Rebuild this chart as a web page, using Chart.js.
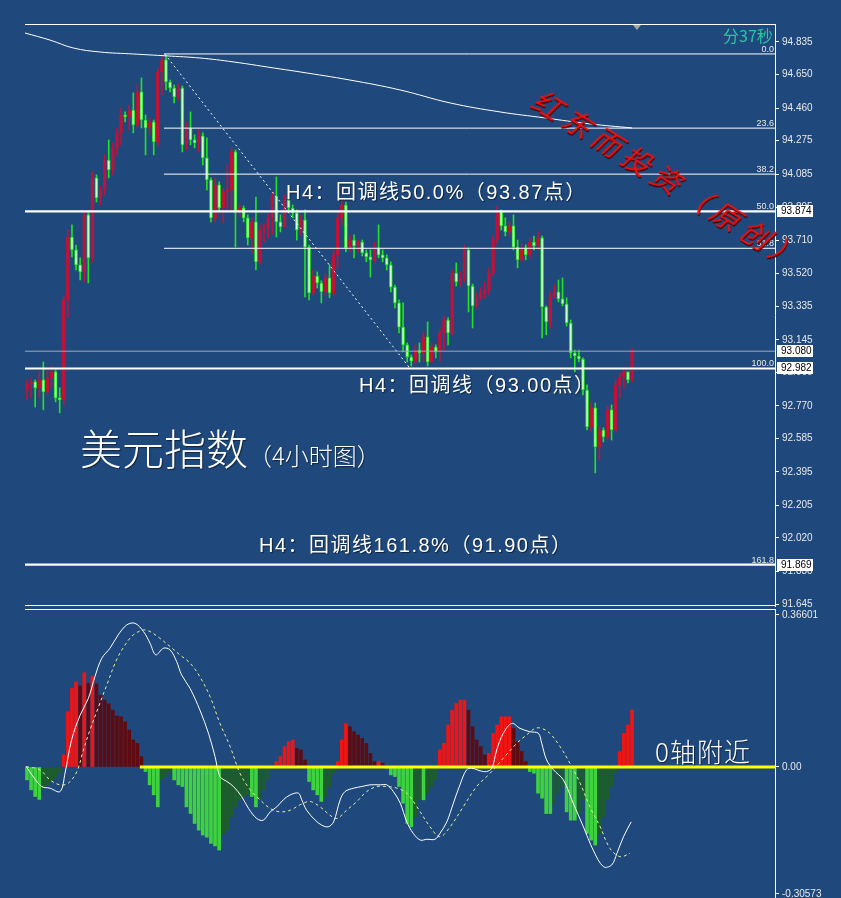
<!DOCTYPE html>
<html><head><meta charset="utf-8">
<script src="https://cdn.jsdelivr.net/npm/chart.js@4"></script>
<style>
html,body{margin:0;padding:0;background:#1f497d;width:841px;height:898px;overflow:hidden;}
#wrap{position:relative;width:841px;height:898px;}
canvas{position:absolute;left:0;}
.t{position:absolute;white-space:nowrap;color:#fff;font-family:"Liberation Sans","Noto Sans CJK SC",sans-serif;}
.h4{font-size:20px;line-height:20px;letter-spacing:1.5px;text-shadow:1px 1px 1px rgba(0,0,0,.55);}
</style></head><body>
<div id="wrap">
<canvas id="main" width="841" height="608" style="top:0"></canvas>
<canvas id="macd" width="841" height="291" style="top:607px"></canvas>
<div class="t h4" style="left:286px;top:182px">H4：回调线50.0%（93.87点）</div>
<div class="t h4" style="left:359px;top:375px">H4：回调线（93.00点）</div>
<div class="t h4" style="left:259px;top:535px">H4：回调线161.8%（91.90点）</div>
<div class="t" style="left:80px;top:426px;font-family:'Noto Sans CJK SC';font-weight:300;font-size:42px;line-height:42px;text-shadow:1px 1px 1px rgba(0,0,0,.5)">美元指数<span style="font-size:24px">（4小时图）</span></div>
<div class="t" style="left:655px;top:738px;font-family:'Noto Sans CJK SC';font-weight:300;font-size:26px;line-height:26px;letter-spacing:1px;text-shadow:1px 1px 1px rgba(0,0,0,.5)">0轴附近</div>
<div class="t" style="left:723px;top:27px;font-family:'Noto Sans CJK SC';font-size:16px;line-height:16px;color:#2ec4a4">分37秒</div>
<div class="t" style="left:536px;top:80px;font-family:'Noto Sans CJK SC';font-weight:400;font-style:italic;font-size:29px;line-height:30px;letter-spacing:6px;color:#ee1010;text-shadow:1px 1px 0 #300;transform-origin:0 50%;transform:rotate(32deg)">红东而投资（原创）</div>
</div>
<script>
// ---------- price panel data (H4 candles) ----------
const firstOpen = 92.860;
const closes = [92.894,92.906,92.872,92.917,92.849,92.929,92.963,92.815,92.803,93.371,
93.728,93.655,93.570,93.530,93.854,93.610,94.064,93.950,93.995,94.165,
94.109,94.234,94.319,94.421,94.409,94.449,94.364,94.552,94.392,94.347,
94.381,94.268,94.665,94.733,94.608,94.574,94.523,94.574,94.251,94.347,
94.279,94.262,94.302,94.177,94.052,93.837,94.024,93.893,93.984,93.995,
94.211,93.871,93.893,93.837,93.723,93.814,93.587,93.768,93.780,93.837,
93.961,93.814,93.785,93.938,93.893,93.865,93.768,93.825,93.671,93.411,
93.507,93.467,93.417,93.496,93.411,93.627,93.837,93.910,93.666,93.711,
93.677,93.700,93.638,93.615,93.598,93.666,93.627,93.610,93.570,93.444,
93.354,93.217,93.116,93.047,93.024,93.087,93.070,93.161,93.019,93.104,
93.076,93.184,93.257,93.184,93.524,93.473,93.496,93.655,93.450,93.337,
93.388,93.411,93.428,93.524,93.711,93.871,93.791,93.757,93.791,93.671,
93.598,93.666,93.627,93.700,93.677,93.723,93.331,93.246,93.388,93.417,
93.377,93.348,93.240,93.070,93.053,93.036,92.860,92.650,92.758,92.537,
92.633,92.593,92.747,92.633,92.889,92.934,92.963,92.917,93.081];
const highs = [92.917,92.929,92.917,92.963,93.019,92.974,92.996,92.974,92.872,93.394,
93.768,93.797,93.683,93.610,93.882,93.865,94.098,94.081,94.018,94.194,
94.279,94.262,94.347,94.461,94.438,94.478,94.546,94.591,94.631,94.421,
94.404,94.392,94.688,94.762,94.756,94.619,94.591,94.596,94.585,94.381,
94.438,94.308,94.336,94.320,94.291,94.064,94.064,94.041,94.007,94.137,
94.234,94.222,93.915,93.904,93.854,93.837,93.955,93.797,93.802,93.859,
93.984,94.069,93.854,93.967,93.950,93.910,93.882,93.854,93.882,93.683,
93.541,93.530,93.480,93.518,93.570,93.655,93.871,93.950,93.927,93.740,
93.740,93.711,93.711,93.655,93.655,93.700,93.797,93.655,93.627,93.587,
93.456,93.371,93.354,93.127,93.059,93.116,93.127,93.190,93.246,93.127,
93.116,93.206,93.280,93.269,93.541,93.581,93.530,93.683,93.666,93.461,
93.411,93.439,93.473,93.553,93.734,93.904,93.882,93.837,93.814,93.854,
93.711,93.688,93.683,93.723,93.734,93.757,93.734,93.337,93.417,93.456,
93.484,93.496,93.383,93.257,93.087,93.087,93.042,92.889,92.792,92.786,
92.656,92.645,92.769,92.775,92.917,92.957,92.985,92.963,93.098];
const lows = [92.803,92.815,92.763,92.815,92.747,92.832,92.872,92.792,92.730,92.775,
93.269,93.615,93.541,93.484,93.473,93.467,93.587,93.927,93.910,93.967,
94.064,94.081,94.194,94.251,94.381,94.336,94.319,94.347,94.347,94.194,
94.308,94.194,94.245,94.535,94.563,94.552,94.489,94.506,94.211,94.222,
94.251,94.234,94.211,94.137,93.995,93.814,93.814,93.871,93.808,93.882,
93.871,93.671,93.842,93.814,93.683,93.638,93.541,93.575,93.700,93.723,
93.745,93.728,93.757,93.780,93.871,93.837,93.711,93.740,93.388,93.371,
93.400,93.439,93.354,93.394,93.383,93.394,93.553,93.797,93.644,93.644,
93.610,93.644,93.621,93.587,93.501,93.587,93.610,93.587,93.541,93.417,
93.326,93.184,93.076,93.019,92.996,93.007,93.019,93.019,92.996,93.019,
93.042,93.019,93.087,93.116,93.173,93.450,93.450,93.473,93.303,93.212,
93.326,93.371,93.383,93.400,93.507,93.688,93.768,93.734,93.734,93.655,
93.553,93.587,93.598,93.610,93.655,93.655,93.156,93.173,93.212,93.383,
93.360,93.337,93.223,93.042,92.963,93.019,92.832,92.633,92.622,92.389,
92.463,92.565,92.576,92.576,92.622,92.815,92.872,92.900,92.906];
// moving average (bar index, price)
const maPoints = [[-0.5,94.886],[5.6,94.846],[11.3,94.801],[17.9,94.778],[25.9,94.767],[34.2,94.756],[42.3,94.744],[50.4,94.722],[61.9,94.682],[66.8,94.665],[79.0,94.619],[91.2,94.563],[103.5,94.489],[115.7,94.438],[126.7,94.404],[137.7,94.370],[148,94.347]];
// fibonacci retracement
const fibLevels = [0.0, 23.6, 38.2, 50.0, 61.8, 100.0, 161.8];
const fibPrices = [94.767, 94.346, 94.085, 93.874, 93.664, 92.982, 91.869];
const fibHighlighted = [50.0, 100.0, 161.8];
const fibAnchorBar = 33.5;
const trendLine = [[33.7, 94.767], [93.7, 92.982]];
const currentPrice = 93.080;
const priceBoxes = [93.874, 93.080, 92.982, 91.869];
const priceTicks = [94.835,94.650,94.460,94.275,94.085,93.895,93.710,93.520,93.335,93.145,92.960,92.770,92.585,92.395,92.205,92.020,91.830,91.645];

// ---------- MACD panel data ----------
const hist = [-0.031,-0.055,-0.071,-0.078,-0.051,-0.043,-0.035,-0.027,-0.015,0.029,
0.133,0.189,0.205,0.195,0.227,0.201,0.219,0.200,0.173,0.161,
0.152,0.137,0.123,0.121,0.109,0.089,0.065,0.057,0.025,-0.011,
-0.043,-0.067,-0.096,-0.031,-0.023,-0.015,-0.031,-0.043,-0.047,-0.096,
-0.112,-0.136,-0.152,-0.164,-0.169,-0.184,-0.190,-0.200,-0.160,-0.152,
-0.120,-0.096,-0.079,-0.071,-0.067,-0.071,-0.096,-0.079,-0.055,-0.031,
-0.003,0.013,0.025,0.049,0.061,0.065,0.045,0.041,0.017,-0.035,
-0.055,-0.067,-0.083,-0.071,-0.047,-0.015,0.013,0.065,0.105,0.097,
0.085,0.077,0.069,0.057,0.033,0.013,0.013,0.009,-0.003,-0.019,
-0.023,-0.047,-0.087,-0.136,-0.144,-0.120,-0.079,-0.079,-0.063,-0.047,
-0.031,0.041,0.057,0.101,0.137,0.153,0.161,0.161,0.137,0.097,
0.065,0.049,0.029,0.033,0.081,0.101,0.121,0.121,0.121,0.093,
0.061,0.037,0.013,-0.011,-0.015,-0.063,-0.075,-0.112,-0.112,-0.087,
-0.063,-0.047,-0.108,-0.128,-0.128,-0.112,-0.079,-0.160,-0.176,-0.188,
-0.160,-0.120,-0.079,-0.047,-0.015,0.037,0.081,0.101,0.137];
const macdMain = [[-0.2,0.001],[1.5,-0.023],[3.6,-0.047],[5.6,-0.051],[8.1,-0.059],[9.3,-0.015],[10.9,0.065],[13.0,0.125],[15.0,0.165],[16.6,0.217],[18.3,0.262],[20.3,0.286],[22.3,0.318],[24.4,0.342],[26.4,0.346],[28.5,0.326],[30.1,0.298],[31.5,0.270],[33.4,0.286],[35.0,0.282],[36.6,0.254],[37.8,0.222],[39.9,0.189],[42.3,0.137],[44.4,0.081],[46.0,0.025],[47.2,-0.023],[48.9,-0.035],[50.5,-0.047],[52.5,-0.071],[54.2,-0.100],[56.2,-0.124],[57.8,-0.128],[59.5,-0.108],[61.1,-0.096],[62.7,-0.079],[64.4,-0.067],[66.4,-0.063],[67.2,-0.079],[68.4,-0.104],[70.5,-0.128],[72.1,-0.140],[73.7,-0.144],[75.0,-0.132],[76.6,-0.079],[77.8,-0.059],[79.9,-0.051],[81.9,-0.047],[83.9,-0.043],[86.4,-0.043],[88.0,-0.043],[89.6,-0.059],[91.3,-0.087],[92.9,-0.132],[94.5,-0.160],[96.2,-0.176],[97.8,-0.174],[99.8,-0.174],[101.0,-0.160],[102.7,-0.132],[104.3,-0.087],[105.9,-0.043],[107.5,-0.007],[108.8,-0.003],[110.8,-0.009],[112.4,-0.011],[113.7,-0.003],[114.9,0.041],[116.5,0.081],[118.6,0.105],[120.6,0.093],[123.0,0.085],[125.1,0.081],[125.9,0.057],[127.1,0.017],[128.8,-0.007],[131.2,-0.031],[133.6,-0.087],[136.1,-0.144],[138.5,-0.200],[141.0,-0.240],[143.0,-0.236],[144.3,-0.208],[145.9,-0.168],[147.8,-0.132]];
const macdSignal = [[-0.2,0.001],[3.2,-0.007],[5.6,-0.031],[8.1,-0.043],[10.1,-0.039],[12.2,-0.011],[13.8,0.041],[15.4,0.089],[17.5,0.145],[19.5,0.197],[21.9,0.258],[24.0,0.294],[26.0,0.318],[28.5,0.330],[30.1,0.326],[32.5,0.310],[35.0,0.290],[37.4,0.270],[39.9,0.250],[42.3,0.217],[44.8,0.169],[47.2,0.105],[49.7,0.049],[52.1,-0.015],[54.6,-0.055],[57.0,-0.079],[59.5,-0.100],[61.9,-0.108],[64.4,-0.104],[66.8,-0.091],[69.2,-0.083],[71.7,-0.096],[74.1,-0.116],[75.8,-0.124],[78.2,-0.104],[80.7,-0.083],[83.1,-0.059],[85.6,-0.047],[88.0,-0.047],[90.5,-0.051],[92.9,-0.063],[95.4,-0.096],[98.6,-0.144],[101.0,-0.168],[103.5,-0.144],[106.7,-0.096],[110.0,-0.047],[113.3,-0.015],[116.5,0.021],[119.8,0.057],[122.2,0.077],[124.3,0.093],[125.9,0.093],[127.9,0.081],[130.4,0.049],[132.8,0.009],[135.3,-0.039],[137.7,-0.096],[140.2,-0.144],[142.6,-0.196],[145.1,-0.216],[147.5,-0.208]];
const zeroLineStartBar = 27.6;
const macdTicks = [0.36601, 0, -0.30573];
const macdTickLabels = ['0.36601', '0.00', '-0.30573'];

// ---------- layout ----------
const XMIN = -0.489, XMAX = 182.97;
const RED = '#c0123a', GREEN = '#22e022', GREEN_FILL = '#c8ffc0';
Chart.defaults.font.family = '"Liberation Sans", Arial, sans-serif';
Chart.defaults.font.size = 10;

const opens = [firstOpen].concat(closes.slice(0, -1));
const isUp = closes.map((c, i) => c >= opens[i]);
const toXY = arr => arr.map(p => ({x: p[0], y: p[1]}));

const fibDatasets = fibLevels.map((lv, i) => {
  const hl = fibHighlighted.includes(lv);
  return {type:'line', order:0, data:[{x: hl ? XMIN : fibAnchorBar, y: fibPrices[i]}, {x: XMAX, y: fibPrices[i]}],
    borderColor:'#ffffff', borderWidth: hl ? 2.2 : 1, pointRadius:0, fill:false};
});

const yAxisBase = (min, max, ticks, cb) => ({
  position:'right', min, max,
  afterFit(s){ s.width = 66; s.paddingTop = 0; s.paddingBottom = 0; },
  afterBuildTicks(s){ s.ticks = ticks.map(v => ({value:v})); },
  ticks:{color:'#e8e8e8', padding:3, autoSkip:false, callback:cb, font:{size:10}},
  grid:{drawOnChartArea:false, drawTicks:true, tickLength:4, tickColor:'#ffffff'},
  border:{display:true, color:'#ffffff', width:1}
});

const mainDeco = {
  id:'mainDeco',
  afterDraw(chart){
    const {ctx, chartArea:a, scales:{x, y}} = chart;
    ctx.save();
    ctx.strokeStyle = '#ffffff'; ctx.lineWidth = 1;
    ctx.beginPath(); ctx.moveTo(a.left, a.top + 0.5); ctx.lineTo(a.right, a.top + 0.5); ctx.stroke();
    ctx.beginPath(); ctx.moveTo(a.left, a.bottom - 0.5); ctx.lineTo(a.right, a.bottom - 0.5); ctx.stroke();
    ctx.font = '9px "Liberation Sans"'; ctx.fillStyle = '#e8e8e8'; ctx.textAlign = 'right'; ctx.textBaseline = 'alphabetic';
    fibLevels.forEach((lv, i) => { ctx.fillText(lv.toFixed(1), a.right - 1, y.getPixelForValue(fibPrices[i]) - 2); });
    ctx.font = '10px "Liberation Sans"'; ctx.textAlign = 'left'; ctx.textBaseline = 'middle';
    priceBoxes.forEach(v => {
      const py = Math.round(y.getPixelForValue(v));
      ctx.fillStyle = '#ffffff'; ctx.fillRect(a.right + 2, py - 6, 36, 12);
      ctx.fillStyle = '#000000'; ctx.fillText(v.toFixed(3), a.right + 6, py + 0.5);
    });
    const tx = x.getPixelForValue(149.2);
    ctx.fillStyle = '#a9a9a9';
    ctx.beginPath(); ctx.moveTo(tx - 4, a.top + 1); ctx.lineTo(tx + 4, a.top + 1); ctx.lineTo(tx, a.top + 6); ctx.closePath(); ctx.fill();
    ctx.restore();
  }
};

new Chart(document.getElementById('main'), {
  type:'bar',
  data:{datasets:[
    ...fibDatasets,
    {type:'line', order:0, data:[{x:XMIN, y:currentPrice}, {x:XMAX, y:currentPrice}], borderColor:'#9aa7ba', borderWidth:1, pointRadius:0},
    {type:'line', order:1, data:toXY(trendLine), borderColor:'#ffffff', borderWidth:1, borderDash:[2,3], pointRadius:0},
    {type:'line', order:2, data:toXY(maPoints), borderColor:'#ffffff', borderWidth:1, pointRadius:0, tension:0.4},
    {type:'bar', order:3, grouped:false, barThickness:3, minBarLength:1, borderSkipped:false, borderWidth:1,
      data:closes.map((c, i) => ({x:i, y:[opens[i], c]})),
      backgroundColor:isUp.map(u => u ? RED : GREEN_FILL), borderColor:isUp.map(u => u ? RED : GREEN)},
    {type:'bar', order:4, grouped:false, barThickness:1, borderWidth:0,
      data:closes.map((c, i) => ({x:i, y:[lows[i], highs[i]]})),
      backgroundColor:isUp.map(u => u ? RED : GREEN)}
  ]},
  options:{
    responsive:false, animation:false, devicePixelRatio:1, events:[],
    layout:{padding:{left:25, top:24, right:0, bottom:2}},
    plugins:{legend:{display:false}, tooltip:{enabled:false}},
    scales:{
      x:{type:'linear', min:XMIN, max:XMAX, display:false, offset:false},
      y:yAxisBase(91.634, 94.937, priceTicks, v => Number(v).toFixed(3))
    }
  },
  plugins:[mainDeco]
});

const histColors = hist.map((v, i) => {
  const prev = i > 0 ? hist[i - 1] : 0;
  if (v >= 0) return v >= prev ? '#f01414' : '#5e0c12';
  return v <= prev ? '#3fd23f' : '#1d5c2e';
});

const macdDeco = {
  id:'macdDeco',
  afterDraw(chart){
    const {ctx, chartArea:a} = chart;
    ctx.save(); ctx.strokeStyle = '#ffffff'; ctx.lineWidth = 1;
    ctx.beginPath(); ctx.moveTo(a.left, a.top + 0.5); ctx.lineTo(a.right, a.top + 0.5); ctx.stroke();
    ctx.restore();
  }
};

new Chart(document.getElementById('macd'), {
  type:'bar',
  data:{datasets:[
    {type:'line', order:0, data:toXY(macdMain), borderColor:'#ffffff', borderWidth:1, pointRadius:0, tension:0.35},
    {type:'line', order:1, data:toXY(macdSignal), borderColor:'#e6ee9a', borderWidth:1, borderDash:[3,3], pointRadius:0, tension:0.35},
    {type:'line', order:2, data:[{x:zeroLineStartBar, y:0}, {x:XMAX, y:0}], borderColor:'#ffff00', borderWidth:3, pointRadius:0},
    {type:'bar', order:3, grouped:false, barThickness:3, borderWidth:0,
      data:hist.map((v, i) => ({x:i, y:v})), backgroundColor:histColors}
  ]},
  options:{
    responsive:false, animation:false, devicePixelRatio:1, events:[],
    layout:{padding:{left:25, top:2, right:0, bottom:0}},
    plugins:{legend:{display:false}, tooltip:{enabled:false}},
    scales:{
      x:{type:'linear', min:XMIN, max:XMAX, display:false, offset:false},
      y:yAxisBase(-0.3154, 0.3804, macdTicks, (v, i) => macdTickLabels[i])
    }
  },
  plugins:[macdDeco]
});
</script>
</body></html>
